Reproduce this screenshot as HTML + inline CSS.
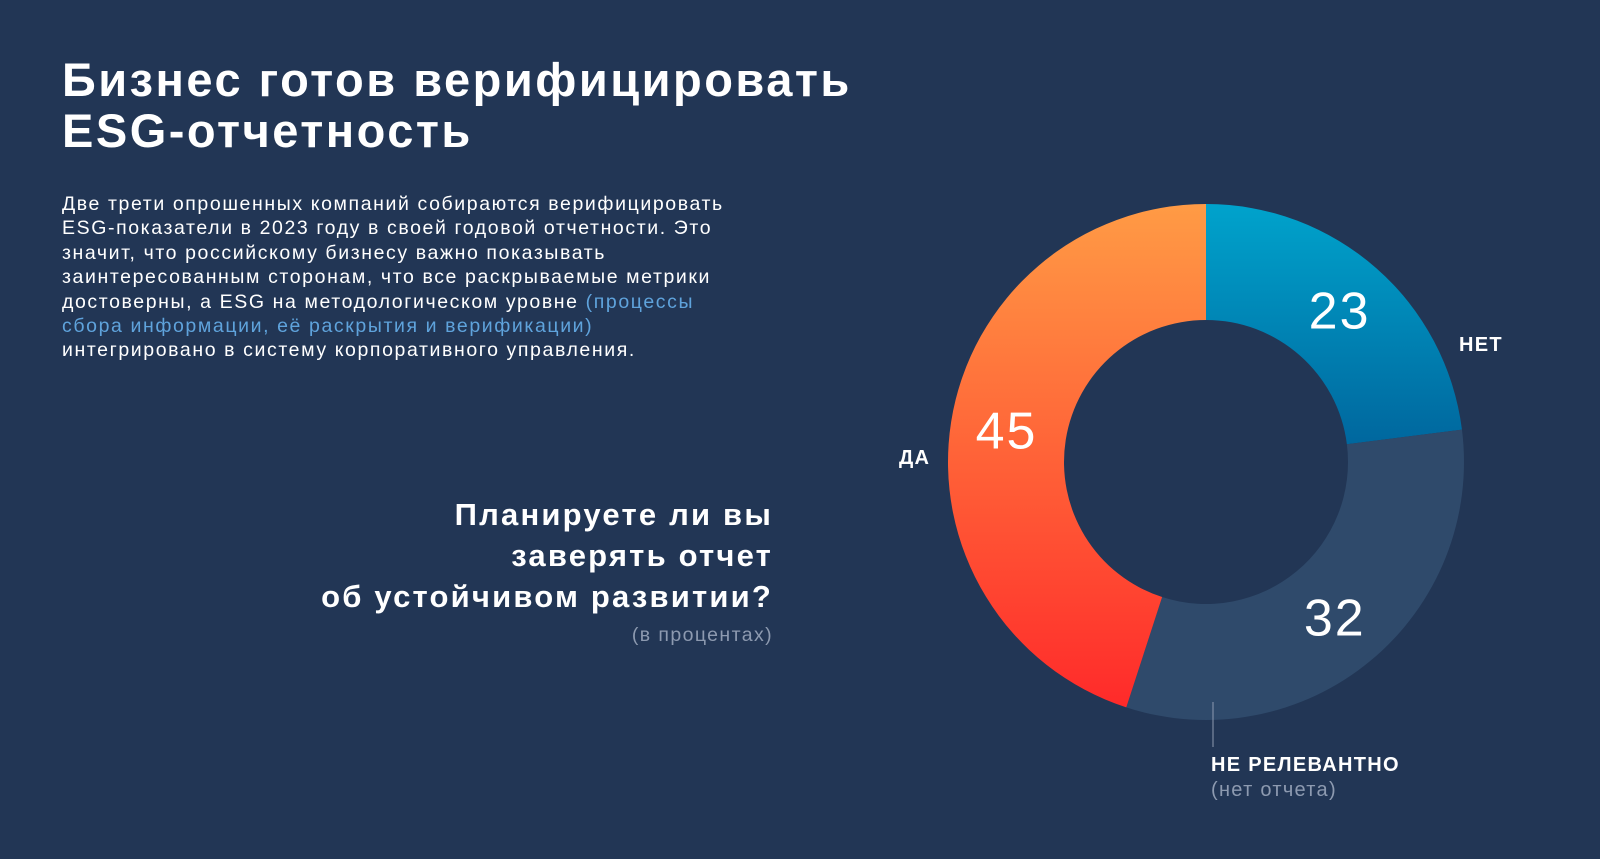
<!DOCTYPE html>
<html><head><meta charset="utf-8">
<style>
html,body{margin:0;padding:0;}
body{width:1600px;height:859px;background:#223655;overflow:hidden;position:relative;font-family:"Liberation Sans","Noto Sans CJK SC",sans-serif;color:#fff;}
.t{position:absolute;}
#title{left:62px;top:54px;font-size:47px;font-weight:bold;line-height:51px;letter-spacing:2.5px;white-space:nowrap;}
#para{left:62px;top:192px;font-size:19.5px;line-height:24.4px;letter-spacing:1.6px;white-space:nowrap;}
#para span{color:#5fa3dc;}
#q{right:827px;top:494px;font-size:31px;font-weight:bold;line-height:41px;text-align:right;white-space:nowrap;letter-spacing:2.2px;}
#qsub{right:827px;top:624px;font-size:19.5px;color:#8d9ab0;letter-spacing:1.4px;}
svg{position:absolute;left:0;top:0;}
</style></head><body>
<div class="t" id="title">Бизнес готов верифицировать<br>ESG-отчетность</div>
<div class="t" id="para">Две трети опрошенных компаний собираются верифицировать<br>ESG-показатели в 2023 году в своей годовой отчетности. Это<br>значит, что российскому бизнесу важно показывать<br>заинтересованным сторонам, что все раскрываемые метрики<br>достоверны, а ESG на методологическом уровне <span>(процессы<br>сбора информации, её раскрытия и верификации)</span><br>интегрировано в систему корпоративного управления.</div>
<div class="t" id="q">Планируете ли вы<br>заверять отчет<br>об устойчивом развитии?</div>
<div class="t" id="qsub">(в процентах)</div>
<svg id="chart" width="1600" height="859">
<defs>
<linearGradient id="gBlue" x1="0" y1="0" x2="0" y2="1"><stop offset="0" stop-color="#00a3cc"/><stop offset="1" stop-color="#00679e"/></linearGradient>
<linearGradient id="gOrange" x1="0" y1="0" x2="0" y2="1"><stop offset="0" stop-color="#ff9b45"/><stop offset="1" stop-color="#ff2a2a"/></linearGradient>
</defs>
</svg>
<script>
const categories = ["НЕТ", "НЕ РЕЛЕВАНТНО", "ДА"];
const values = [23, 32, 45];
const fills = ["url(#gBlue)", "#2f4a6b", "url(#gOrange)"];
const svg = document.getElementById('chart');
const NS = "http://www.w3.org/2000/svg";
const cx = 1206, cy = 462, R = 258, r = 142;
const total = values.reduce((a,b)=>a+b,0);
function pt(a, rad){ return [cx + rad*Math.sin(a), cy - rad*Math.cos(a)]; }
let acc = 0;
values.forEach((v,i)=>{
  const a0 = acc/total*2*Math.PI, a1 = (acc+v)/total*2*Math.PI;
  acc += v;
  const large = (a1-a0) > Math.PI ? 1 : 0;
  const [x0,y0] = pt(a0,R), [x1,y1] = pt(a1,R), [x2,y2] = pt(a1,r), [x3,y3] = pt(a0,r);
  const p = document.createElementNS(NS,'path');
  p.setAttribute('d',`M${x0},${y0} A${R},${R} 0 ${large} 1 ${x1},${y1} L${x2},${y2} A${r},${r} 0 ${large} 0 ${x3},${y3} Z`);
  p.setAttribute('fill', fills[i]);
  
  
  svg.appendChild(p);
  const am = (a0+a1)/2;
  const [lx,ly] = pt(am, 202);
  const t = document.createElementNS(NS,'text');
  t.setAttribute('x', lx); t.setAttribute('y', ly + 18);
  t.setAttribute('text-anchor','middle');
  t.setAttribute('font-size','52'); t.setAttribute('fill','#fff');
  t.setAttribute('letter-spacing','2');
  t.setAttribute('font-family','Liberation Sans, sans-serif');
  t.textContent = v;
  
  
  svg.appendChild(t);
});
function addText(x,y,txt,opts){
  const t = document.createElementNS(NS,'text');
  t.setAttribute('x',x); t.setAttribute('y',y);
  t.setAttribute('font-size',opts.size||20);
  t.setAttribute('font-weight',opts.weight||'bold');
  t.setAttribute('fill',opts.fill||'#fff');
  t.setAttribute('letter-spacing','1.3');
  t.setAttribute('font-family','Liberation Sans, sans-serif');
  t.textContent = txt;
  svg.appendChild(t);
  return t;
}
let e;
e = addText(1459,351,categories[0],{});


e = addText(899,464,categories[2],{});


e = addText(1211,771,categories[1],{});


e = addText(1211,796,"(нет отчета)",{weight:'normal',fill:'#8d9ab0'});


const ln = document.createElementNS(NS,'line');
ln.setAttribute('x1',1213); ln.setAttribute('x2',1213);
ln.setAttribute('y1',702); ln.setAttribute('y2',747);
ln.setAttribute('stroke','#8d9ab0'); ln.setAttribute('stroke-width','1');


svg.appendChild(ln);
</script>
</body></html>
